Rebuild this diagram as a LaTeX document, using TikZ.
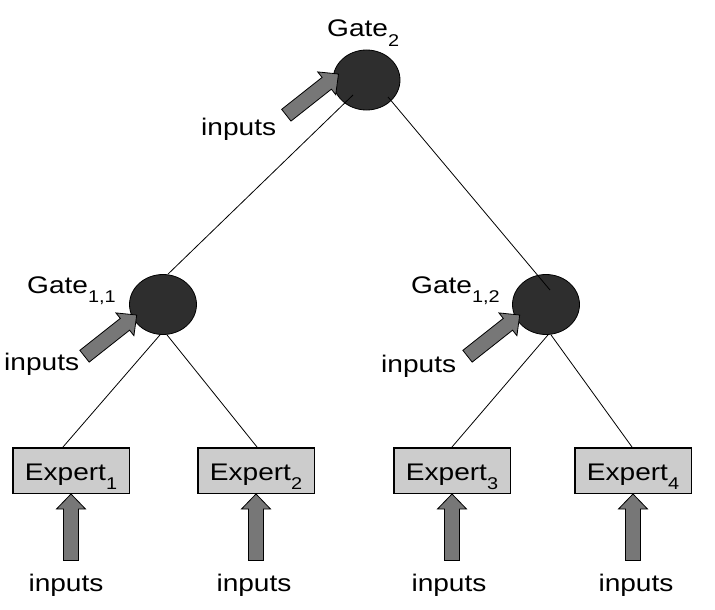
\documentclass[tikz,border=0pt]{standalone}
\usepackage{fontspec}
\setmainfont{Liberation Sans}[FakeStretch=1.17]
\usetikzlibrary{shapes.geometric,calc}
\definecolor{gatefill}{HTML}{2E2E2E}
\definecolor{boxfill}{HTML}{CCCCCC}
\definecolor{arrowfill}{HTML}{777777}
\newcommand\subsc[1]{\raisebox{-9.5pt}[0pt][0pt]{\fontsize{17}{17}\selectfont #1}}
\newcommand\blockarrow[2]{%
  \draw[barrow, shift={(#1)}, rotate=#2] (0,0) -- (-15,14.5) -- (-15,7.5) -- (-66.5,7.5)
    -- (-66.5,-7.5) -- (-15,-7.5) -- (-15,-14.5) -- cycle;}
\begin{document}
\begin{tikzpicture}[x=1pt,y=-1pt,
  gate/.style={ellipse, draw=black, fill=gatefill, line width=0.8pt,
    minimum width=67pt, minimum height=60pt, inner sep=0pt},
  expert/.style={rectangle, draw=black, fill=boxfill, line width=1.5pt,
    minimum width=116.5pt, minimum height=45.5pt, inner sep=0pt,
    font=\fontsize{24}{28}\selectfont, text height=19pt, text depth=0pt},
  lbl/.style={inner sep=0pt, font=\fontsize{24}{28}\selectfont},
  conn/.style={draw=black, line width=0.8pt},
  barrow/.style={draw=black, fill=arrowfill, line width=0.8pt, line join=miter}]
\useasboundingbox (0,0) rectangle (715,610);
\fill[white] (0,0) rectangle (715,610);
% gates
\node[gate] (g2) at (366.5,80) {};
\node[gate] (g11) at (163,304.5) {};
\node[gate] (g12) at (546,304.5) {};
% experts
\node[expert] (e1) at (71,470.5) {Expert\subsc{1}};
\node[expert] (e2) at (256,470.5) {Expert\subsc{2}};
\node[expert] (e3) at (452,470.5) {Expert\subsc{3}};
\node[expert] (e4) at (633,470.5) {Expert\subsc{4}};
% labels
\node[lbl, anchor=base west] (lg2) at (327,37) {Gate\subsc{2}};
\node[lbl, anchor=base west] (lg11) at (27,293) {Gate\subsc{1,1}};
\node[lbl, anchor=base west] (lg12) at (411,293) {Gate\subsc{1,2}};
\node[lbl, anchor=base west] (i2) at (201,135) {inputs};
\node[lbl, anchor=base west] (i11) at (4,370) {inputs};
\node[lbl, anchor=base west] (i12) at (381,372) {inputs};
\node[lbl, anchor=base] (ie1) at (66,591) {inputs};
\node[lbl, anchor=base] (ie2) at (254,591) {inputs};
\node[lbl, anchor=base] (ie3) at (449,591) {inputs};
\node[lbl, anchor=base] (ie4) at (636,591) {inputs};
% connectors
\draw[conn] ($(g2)+(-13.5,15)$) -- ($(g11.north)+(5,0)$);
\draw[conn] ($(g2)+(21.5,17)$) -- ($(g12)+(4,-14.5)$);
\draw[conn] ($(g11.south)+(-3,0)$) -- ($(e1.north)+(-8,0)$);
\draw[conn] ($(g11.south)+(4,0)$) -- ($(e2.north)+(1,0)$);
\draw[conn] ($(g12.south)+(2,0)$) -- (e3.north);
\draw[conn] ($(g12.south)+(5,0)$) -- ($(e4.north)+(-1,0)$);
% block arrows
\blockarrow{$(g2)+(-28,-6)$}{38.3}
\blockarrow{$(g11)+(-26.3,10.5)$}{38.3}
\blockarrow{$(g12)+(-26.3,10.5)$}{38.3}
\blockarrow{e1.south}{90}
\blockarrow{e2.south}{90}
\blockarrow{e3.south}{90}
\blockarrow{e4.south}{90}
\end{tikzpicture}
\end{document}
